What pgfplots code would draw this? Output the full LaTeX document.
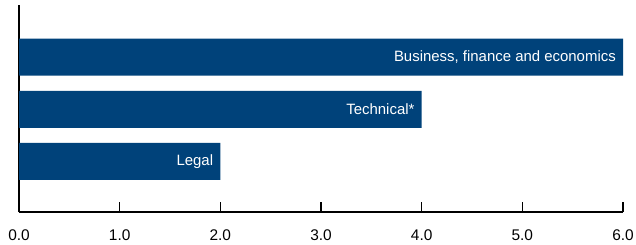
\documentclass[border=0pt]{standalone}
\usepackage{pgfplots}
\pgfplotsset{compat=1.18}
\usepackage{fontspec}
\setmainfont{Liberation Sans}
\definecolor{barblue}{HTML}{00427A}
\begin{document}
\begin{tikzpicture}
\begin{axis}[
  at={(19bp,33bp)}, anchor=south west,
  scale only axis, width=604bp, height=207bp,
  xmin=0, xmax=6, ymin=-0.97, ymax=3.0,
  axis x line*=bottom, axis y line*=left,
  axis line style={line width=1.2bp, black},
  xtick={0,1,2,3,4,5,6}, ytick=\empty,
  tick align=inside, major tick length=10bp,
  every tick/.style={line width=1.2bp, black},
  /pgf/number format/assume math mode=true,
  /pgf/number format/fixed,
  /pgf/number format/fixed zerofill,
  /pgf/number format/precision=1,
  x tick label style={font=\fontsize{15.5}{18}\selectfont, yshift=-14bp},
  xbar, bar width=37bp, bar shift=0pt,
  nodes near coords, point meta=explicit symbolic,
  every node near coord/.append style={anchor=east, text=white, font=\fontsize{15}{18}\selectfont, xshift=-7bp, inner sep=0pt},
]
\addplot[fill=barblue, draw=none] coordinates {
  (2,0) [Legal]
  (4,1) [Technical*]
  (6,2) [{Business, finance and economics}]
};
\end{axis}
\pgfresetboundingbox
\path (0,0) rectangle (636bp,245bp);
\end{tikzpicture}
\end{document}
